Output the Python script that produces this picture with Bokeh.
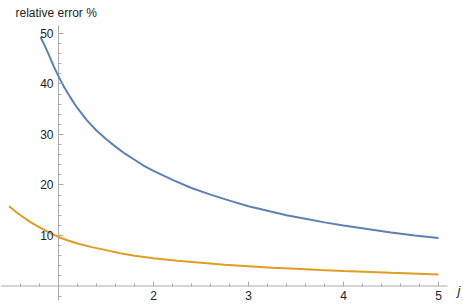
from bokeh.plotting import figure
from bokeh.models import Range1d, LinearAxis, FixedTicker, Label
from bokeh.embed import file_html
from bokeh.resources import INLINE

# data
j_blue = [0.81, 0.85, 0.9, 0.95, 1.0, 1.05, 1.1, 1.15, 1.2, 1.3, 1.4, 1.5, 1.6,
          1.7, 1.8, 1.9, 2.0, 2.2, 2.4, 2.6, 2.8, 3.0, 3.2, 3.4, 3.6, 3.8,
          4.0, 4.25, 4.5, 4.75, 5.0]
err_blue = [49.3, 47.8, 45.7, 43.5, 41.5, 39.7, 38.1, 36.6, 35.2, 32.8, 30.8, 29.1, 27.6,
            26.2, 25.0, 23.8, 22.8, 21.0, 19.4, 18.1, 16.9, 15.8, 14.9, 14.0, 13.3, 12.6,
            12.0, 11.3, 10.6, 10.0, 9.5]

j_orange = [0.48, 0.55, 0.6, 0.7, 0.8, 0.9, 1.0, 1.1, 1.2, 1.35, 1.5, 1.65, 1.8,
            2.0, 2.25, 2.5, 2.75, 3.0, 3.25, 3.5, 3.75, 4.0, 4.5, 5.0]
err_orange = [15.8, 14.7, 14.0, 12.7, 11.6, 10.6, 9.7, 9.0, 8.4, 7.7, 7.1, 6.5, 6.0,
              5.5, 5.0, 4.6, 4.2, 3.9, 3.6, 3.4, 3.15, 2.95, 2.6, 2.3]

x_major = [2, 3, 4, 5]
x_minor = [0.6, 0.8, 1.2, 1.4, 1.6, 1.8, 2.2, 2.4, 2.6, 2.8, 3.2, 3.4, 3.6, 3.8,
           4.2, 4.4, 4.6, 4.8]
y_major = [10, 20, 30, 40, 50]
y_minor = [-2, 2, 4, 6, 8, 12, 14, 16, 18, 22, 24, 26, 28, 32, 34, 36, 38,
           42, 44, 46, 48]

# extent of the drawn axis lines (plot range incl. padding)
x_axis_extent = [0.3895, 5.094]
y_axis_extent = [-2.871, 51.58]

x_title = "j"
y_title = "relative error %"

AXIS_COLOR = "#aaaaaa"
TEXT_COLOR = "#222222"
FONT = "Liberation Sans"

p = figure(width=463, height=308, output_backend="svg", toolbar_location=None,
           x_range=Range1d(0.3895, 5.263), y_range=Range1d(-4.455, 56.53),
           x_axis_location=None, y_axis_location=None,
           min_border_left=0, min_border_right=0, min_border_top=0,
           min_border_bottom=0)
p.outline_line_color = None
p.xgrid.visible = False
p.ygrid.visible = False


def style_axis(ax):
    ax.axis_line_color = None
    ax.major_tick_line_color = AXIS_COLOR
    ax.minor_tick_line_color = AXIS_COLOR
    ax.major_tick_in = 5
    ax.major_tick_out = 0
    ax.minor_tick_in = 3
    ax.minor_tick_out = 0
    ax.major_label_text_font = FONT
    ax.major_label_text_font_size = "12px"
    ax.major_label_text_color = TEXT_COLOR
    ax.major_label_standoff = 5


xaxis = LinearAxis(fixed_location=0,
                   ticker=FixedTicker(ticks=x_major, minor_ticks=x_minor))
style_axis(xaxis)
p.add_layout(xaxis, "below")

yaxis = LinearAxis(fixed_location=1,
                   ticker=FixedTicker(ticks=y_major, minor_ticks=y_minor))
style_axis(yaxis)
p.add_layout(yaxis, "left")

# axis lines
p.segment(x0=[x_axis_extent[0]], y0=[0], x1=[x_axis_extent[1]], y1=[0],
          line_color=AXIS_COLOR, line_width=1)
p.segment(x0=[1], y0=[y_axis_extent[0]], x1=[1], y1=[y_axis_extent[1]],
          line_color=AXIS_COLOR, line_width=1)

p.line(j_blue, err_blue, line_color="#5E81B5", line_width=2)
p.line(j_orange, err_orange, line_color="#E19C24", line_width=2)

p.add_layout(Label(x=0.5474, y=54.02, text=y_title, text_font=FONT,
                   text_font_size="12px", text_color=TEXT_COLOR,
                   text_align="left", text_baseline="alphabetic"))
p.add_layout(Label(x=5.216, y=-0.89, text=x_title, text_font=FONT,
                   text_font_size="13px", text_font_style="italic",
                   text_color=TEXT_COLOR, text_align="center",
                   text_baseline="alphabetic"))

open("out.html", "w").write(file_html(p, INLINE))
